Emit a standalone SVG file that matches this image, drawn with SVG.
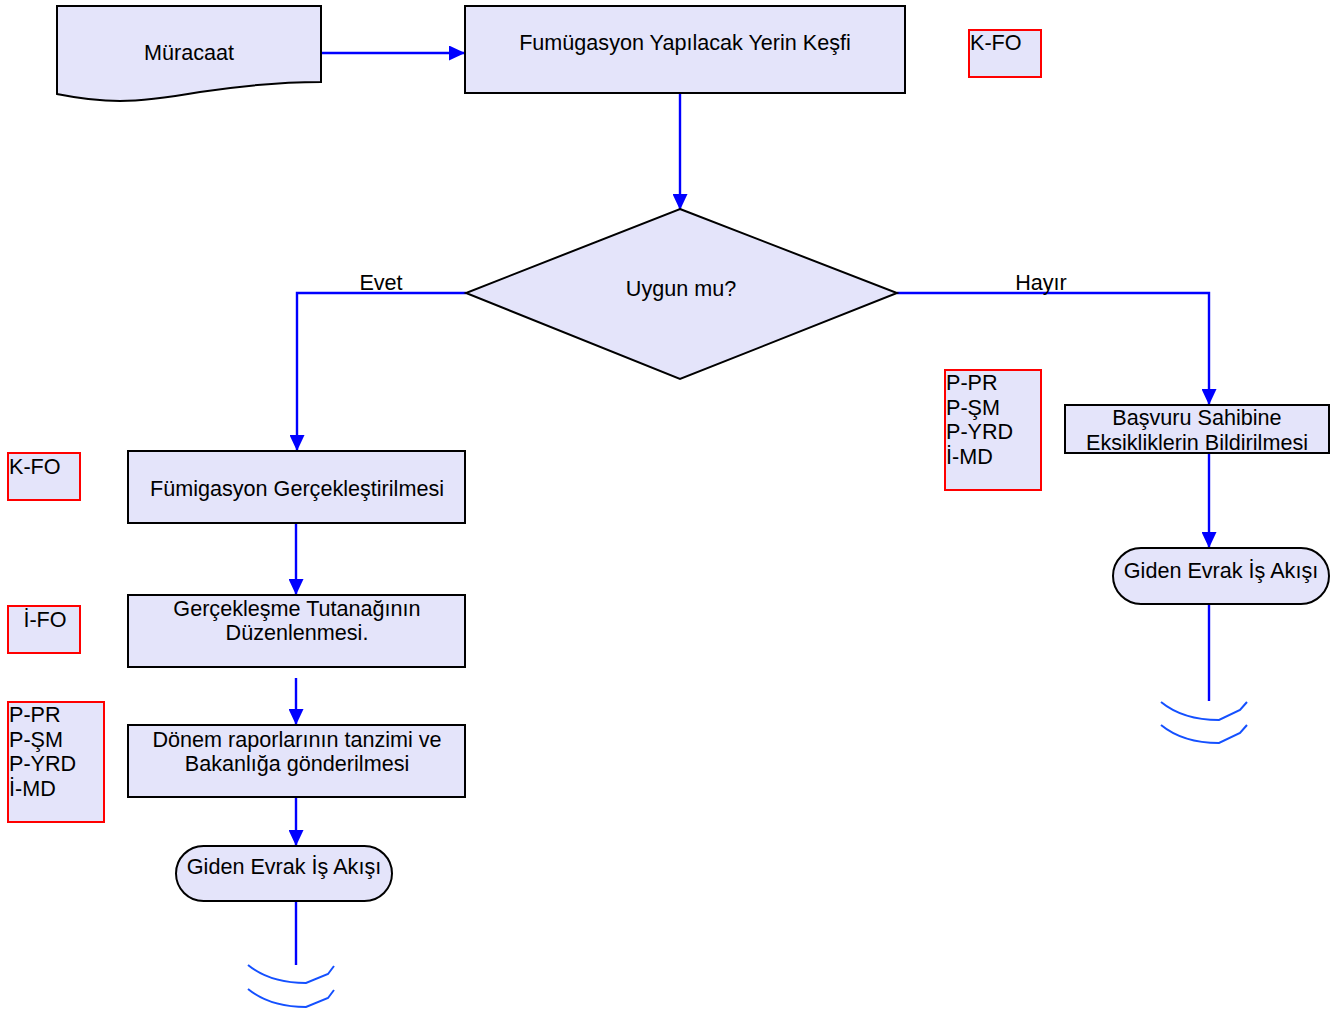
<svg xmlns="http://www.w3.org/2000/svg" width="1338" height="1012" viewBox="0 0 1338 1012">
<style>
.node{fill:#E4E4FA;stroke:#000;stroke-width:2}
.ref{fill:#E4E4FA;stroke:#FF0000;stroke-width:2}
.t{font-family:"Liberation Sans",Arial,sans-serif;font-size:21.6px;fill:#000}
.c{text-anchor:middle}
.conn{fill:none;stroke:#0000FF;stroke-width:2.4}
.wave{fill:none;stroke:#1450FF;stroke-width:2}
</style>
<defs>
<marker id="arr" markerUnits="userSpaceOnUse" markerWidth="16" markerHeight="15" viewBox="0 0 16 15" refX="16" refY="7.5" orient="auto">
<path d="M0,0 L16,7.5 L0,15 z" fill="#0000FF"/>
</marker>
</defs>
<rect width="1338" height="1012" fill="#fff"/>

<g id="connectors">
<path class="conn" d="M321,53 H465" marker-end="url(#arr)"/>
<path class="conn" d="M680,93 V210" marker-end="url(#arr)"/>
<path class="conn" d="M466,293 H297 V451" marker-end="url(#arr)"/>
<path class="conn" d="M897,293 H1209 V405" marker-end="url(#arr)"/>
<path class="conn" d="M296,523 V595" marker-end="url(#arr)"/>
<path class="conn" d="M296,678 V725" marker-end="url(#arr)"/>
<path class="conn" d="M296,797 V846" marker-end="url(#arr)"/>
<path class="conn" d="M1209,453 V548" marker-end="url(#arr)"/>
<path class="conn" d="M296,901 V965"/>
<path class="conn" d="M1209,604 V701"/>
<text class="t c" x="381" y="290">Evet</text>
<text class="t c" x="1041" y="290">Hayır</text>
</g>

<g id="muracaat">
<path class="node" d="M57,6 H321 V82 C275,82 240,86 200,92 C165,98 140,101 120,101 C90,101 72,97 57,94 Z"/>
<text class="t c" x="189" y="60">Müracaat</text>
</g>

<g id="kesif">
<rect class="node" x="465" y="6" width="440" height="87"/>
<text class="t c" x="685" y="50">Fumügasyon Yapılacak Yerin Keşfi</text>
</g>

<g id="ref-kfo-top">
<rect class="ref" x="969" y="30" width="72" height="47"/>
<text class="t" x="970" y="50">K-FO</text>
</g>

<g id="karar">
<polygon class="node" points="680,209 897,293 680,379 466,293"/>
<text class="t c" x="681" y="296">Uygun mu?</text>
</g>

<g id="fumigasyon">
<rect class="node" x="128" y="451" width="337" height="72"/>
<text class="t c" x="297" y="496">Fümigasyon Gerçekleştirilmesi</text>
</g>

<g id="ref-kfo-left">
<rect class="ref" x="8" y="453" width="72" height="47"/>
<text class="t" x="9" y="474">K-FO</text>
</g>

<g id="tutanak">
<rect class="node" x="128" y="595" width="337" height="72"/>
<text class="t c" x="297" y="616">Gerçekleşme Tutanağının</text>
<text class="t c" x="297" y="640">Düzenlenmesi.</text>
</g>

<g id="ref-ifo">
<rect class="ref" x="8" y="606" width="72" height="47"/>
<text class="t c" x="45" y="627">İ-FO</text>
</g>

<g id="donem">
<rect class="node" x="128" y="725" width="337" height="72"/>
<text class="t c" x="297" y="747">Dönem raporlarının tanzimi ve</text>
<text class="t c" x="297" y="771">Bakanlığa gönderilmesi</text>
</g>

<g id="ref-left-list">
<rect class="ref" x="8" y="702" width="96" height="120"/>
<text class="t" x="9" y="722">P-PR</text>
<text class="t" x="9" y="747">P-ŞM</text>
<text class="t" x="9" y="771">P-YRD</text>
<text class="t" x="9" y="796">İ-MD</text>
</g>

<g id="giden-left">
<rect class="node" x="176" y="846" width="216" height="55" rx="27.5" ry="27.5"/>
<text class="t c" x="284" y="874">Giden Evrak İş Akışı</text>
<path class="wave" d="M248,965 Q270,983 306,983 L328,974 L334,966"/>
<path class="wave" d="M248,989 Q270,1007 306,1007 L328,998 L334,990"/>
</g>

<g id="ref-right-list">
<rect class="ref" x="945" y="370" width="96" height="120"/>
<text class="t" x="946" y="390">P-PR</text>
<text class="t" x="946" y="415">P-ŞM</text>
<text class="t" x="946" y="439">P-YRD</text>
<text class="t" x="946" y="464">İ-MD</text>
</g>

<g id="basvuru">
<rect class="node" x="1065" y="405" width="264" height="48"/>
<text class="t c" x="1197" y="425">Başvuru Sahibine</text>
<text class="t c" x="1197" y="450">Eksikliklerin Bildirilmesi</text>
</g>

<g id="giden-right">
<rect class="node" x="1113" y="548" width="216" height="56" rx="28" ry="28"/>
<text class="t c" x="1221" y="578">Giden Evrak İş Akışı</text>
<path class="wave" d="M1161,702 Q1183,720 1219,720 L1240,710 L1247,702"/>
<path class="wave" d="M1161,725 Q1183,743 1219,743 L1240,733 L1247,725"/>
</g>
</svg>
